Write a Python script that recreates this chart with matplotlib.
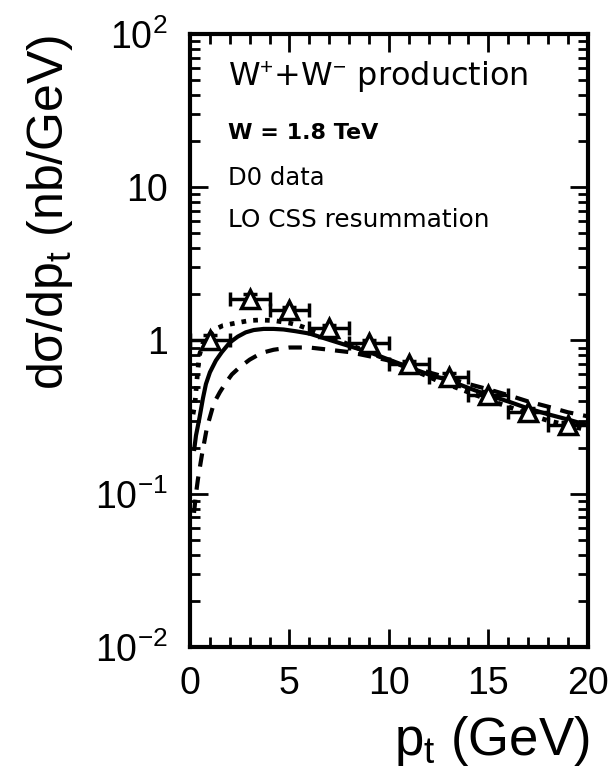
import numpy as np
import matplotlib
matplotlib.use("Agg")
import matplotlib.pyplot as plt
from matplotlib.ticker import FixedLocator, MultipleLocator, NullFormatter

plt.rcParams["font.family"] = ["Liberation Sans", "DejaVu Sans"]
plt.rcParams["mathtext.fontset"] = "custom"
plt.rcParams["mathtext.rm"] = "Liberation Sans"
plt.rcParams["mathtext.it"] = "Liberation Sans"

# D0 data points
data_pt = [1, 3, 5, 7, 9, 11, 13, 15, 17, 19]
data_sig = [1.0, 1.87, 1.57, 1.21, 0.96, 0.70, 0.58, 0.44, 0.34, 0.28]
data_err = [0.08, 0.15, 0.08, 0.06, 0.05, 0.04, 0.03, 0.03, 0.02, 0.015]
bin_half = [1.0] * 10

# LO CSS resummation curves
solid_pt = [0.2, 0.3, 0.47, 0.65, 0.8, 1.0, 1.3, 1.6, 2.0, 2.4, 2.8, 3.2, 3.7, 4.2,
            4.7, 5.3, 6.0, 7.0, 8.0, 9.0, 10.0, 11.0, 12.0, 13.0, 14.0, 15.0,
            16.0, 17.0, 18.0, 19.0, 20.0]
solid_sig = [0.19, 0.24, 0.31, 0.42, 0.52, 0.62, 0.74, 0.84, 0.97, 1.06, 1.13, 1.17,
             1.19, 1.19, 1.18, 1.15, 1.11, 1.01, 0.92, 0.84, 0.75, 0.67, 0.60, 0.55,
             0.49, 0.44, 0.40, 0.36, 0.33, 0.305, 0.28]

dotted_pt = [0.15, 0.25, 0.3, 0.38, 0.47, 0.65, 1.0, 1.3, 1.65, 2.3, 3.0, 3.5, 4.2,
             5.0, 5.5, 6.5, 7.9, 9.6, 11.25, 12.4, 14.0, 15.0, 16.0, 17.0, 18.0,
             19.0, 20.0]
dotted_sig = [0.33, 0.39, 0.47, 0.62, 0.80, 0.96, 1.10, 1.19, 1.25, 1.30, 1.35, 1.36,
              1.35, 1.30, 1.25, 1.12, 0.95, 0.78, 0.64, 0.55, 0.46, 0.41, 0.37, 0.33,
              0.30, 0.28, 0.26]

dashed_pt = [0.2, 0.3, 0.4, 0.6, 0.85, 1.2, 1.5, 1.8, 2.1, 2.5, 3.0, 3.6, 4.2, 5.0,
             6.0, 7.0, 8.0, 9.0, 10.0, 11.0, 12.0, 13.0, 14.0, 15.0, 16.0, 17.0,
             18.0, 19.0, 20.0]
dashed_sig = [0.075, 0.10, 0.125, 0.18, 0.27, 0.39, 0.46, 0.53, 0.60, 0.67, 0.75,
              0.83, 0.87, 0.90, 0.90, 0.87, 0.84, 0.79, 0.74, 0.68, 0.62, 0.57,
              0.52, 0.48, 0.44, 0.40, 0.37, 0.34, 0.32]

ytick_vals = [1e-2, 1e-1, 1, 10, 100]
ytick_labels = [r"$10^{-2}$", r"$10^{-1}$", "1", "10", r"$10^{2}$"]

fig = plt.figure(figsize=(6.12, 7.78), dpi=100)
ax = fig.add_axes([0.3105, 0.1684, 0.650, 0.7879])

ax.plot(solid_pt, solid_sig, color="black", lw=3, ls="-", solid_capstyle="butt")
ax.plot(dotted_pt, dotted_sig, color="black", lw=3.4, ls=(0, (1, 1.5)))
ax.plot(dashed_pt, dashed_sig, color="black", lw=3, ls=(0, (3.2, 2.4)))

ax.errorbar(data_pt, data_sig, xerr=bin_half, yerr=data_err, fmt="^",
            mfc="white", mec="black", mew=2.5, ms=13, ecolor="black",
            elinewidth=2.5, capsize=5, capthick=2.5, zorder=5)

ax.set_yscale("log")
ax.set_xlim(0, 20)
ax.set_ylim(1e-2, 1e2)

ax.xaxis.set_major_locator(MultipleLocator(5))
ax.xaxis.set_minor_locator(MultipleLocator(1))
ax.yaxis.set_major_locator(FixedLocator(ytick_vals))
ax.set_yticklabels(ytick_labels)
minor = [m * 10.0 ** e for e in range(-2, 2) for m in range(2, 10)]
ax.yaxis.set_minor_locator(FixedLocator(minor))
ax.yaxis.set_minor_formatter(NullFormatter())

ax.tick_params(which="both", direction="in", top=True, right=True, width=2,
               colors="black")
ax.tick_params(which="major", length=13)
ax.tick_params(which="minor", length=7)
ax.tick_params(axis="y", which="major", labelsize=27, pad=16)
ax.tick_params(axis="x", which="major", labelsize=27, pad=14)
for s in ax.spines.values():
    s.set_linewidth(3)

fig.text(0.082, 0.727, r"d$\sigma$/dp$_{\rm t}$ (nb/GeV)", fontsize=36,
         rotation=90, ha="center", va="center")
fig.text(0.963, 0.03, r"p$_{\rm t}$ (GeV)", fontsize=38, ha="right", va="baseline")

ax.text(0.095, 0.928, r"W$^{+}$+W$^{-}$ production", transform=ax.transAxes,
        fontsize=23, va="center", ha="left", family="DejaVu Sans")
ax.text(0.095, 0.8385, "W = 1.8 TeV", transform=ax.transAxes,
        fontsize=16, va="center", ha="left", fontweight="bold", family="DejaVu Sans")
ax.text(0.095, 0.765, "D0 data", transform=ax.transAxes,
        fontsize=17.5, va="center", ha="left", family="DejaVu Sans")
ax.text(0.095, 0.697, "LO CSS resummation", transform=ax.transAxes,
        fontsize=17.8, va="center", ha="left", family="DejaVu Sans")

fig.savefig("out.png", dpi=100)
